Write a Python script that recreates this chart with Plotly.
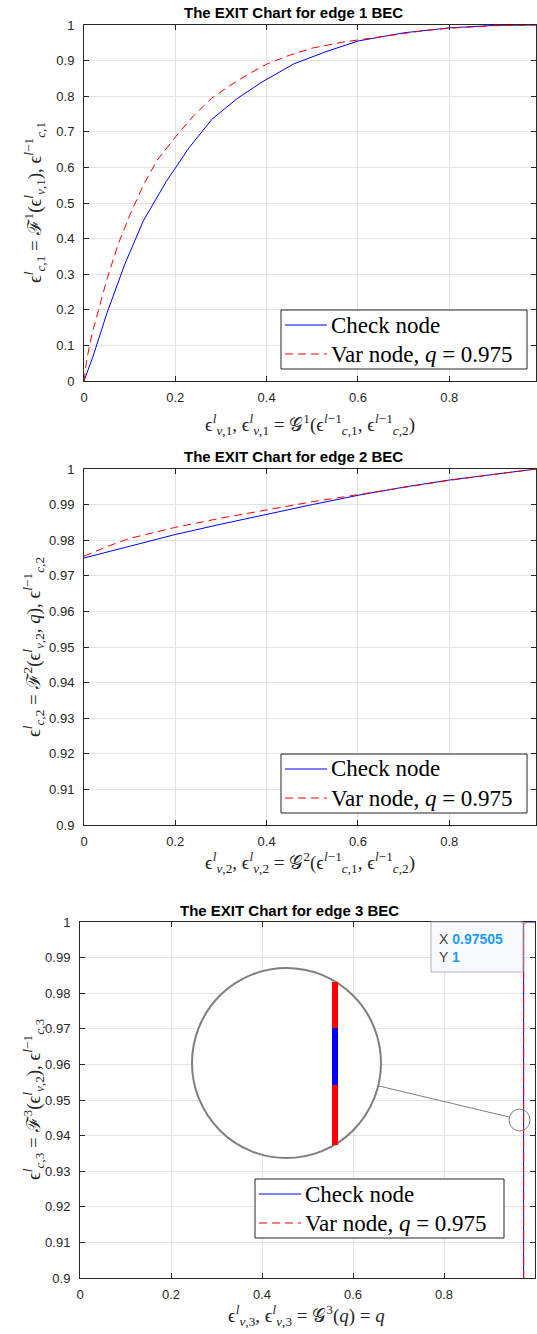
import plotly.graph_objects as go

W, H = 537, 1334

# ---------------- data ----------------
# edge 1
e1_check_x = [0, 0.02, 0.05, 0.09, 0.13, 0.18, 0.23, 0.28, 0.334, 0.39, 0.46, 0.5, 0.53, 0.6, 0.7, 0.8, 0.9, 0.99]
e1_check_y = [0, 0.07, 0.19, 0.33, 0.45, 0.56, 0.655, 0.735, 0.792, 0.84, 0.891, 0.911, 0.925, 0.955, 0.978, 0.992, 0.999, 1.0]
e1_var_x = [0, 0.005, 0.012, 0.02, 0.032, 0.05, 0.075, 0.1, 0.13, 0.16, 0.2, 0.24, 0.28, 0.32, 0.36, 0.4, 0.45, 0.5, 0.567, 0.6, 0.65, 0.7, 0.75, 0.8, 0.9, 0.99]
e1_var_y = [0, 0.05, 0.1, 0.145, 0.2, 0.285, 0.385, 0.465, 0.55, 0.62, 0.685, 0.745, 0.795, 0.83, 0.862, 0.89, 0.915, 0.935, 0.952, 0.958, 0.968, 0.977, 0.985, 0.991, 0.998, 1.0]
# edge 2
e2_check_x = [0, 0.1, 0.2, 0.3, 0.4, 0.5, 0.6, 0.7, 0.8, 0.9, 0.99]
e2_check_y = [0.975, 0.9784, 0.9816, 0.9845, 0.9873, 0.9900, 0.9926, 0.9949, 0.9969, 0.9986, 1.0]
e2_var_x = [0, 0.02, 0.05, 0.1, 0.2, 0.3, 0.4, 0.5, 0.6, 0.7, 0.8, 0.9, 0.99]
e2_var_y = [0.9755, 0.9766, 0.9782, 0.9805, 0.9836, 0.9862, 0.9886, 0.9908, 0.9928, 0.9948, 0.9968, 0.9985, 1.0]
# edge 3
e3_check_x = [0.975, 0.975, 1.0]
e3_check_y = [0.9, 1.0, 1.0]
e3_var_x = [0.975, 0.975]
e3_var_y = [0.9, 1.0]

q_value = 0.975
tip_x, tip_y = "0.97505", "1"
series_names = ["Check node", f"Var node, <i>q</i> = {q_value}"]

titles = ["The EXIT Chart for edge 1 BEC", "The EXIT Chart for edge 2 BEC", "The EXIT Chart for edge 3 BEC"]
y01_ticks = [0, 0.1, 0.2, 0.3, 0.4, 0.5, 0.6, 0.7, 0.8, 0.9, 1]
y01_text = ["0", "0.1", "0.2", "0.3", "0.4", "0.5", "0.6", "0.7", "0.8", "0.9", "1"]
y09_ticks = [0.9, 0.91, 0.92, 0.93, 0.94, 0.95, 0.96, 0.97, 0.98, 0.99, 1]
y09_text = ["0.9", "0.91", "0.92", "0.93", "0.94", "0.95", "0.96", "0.97", "0.98", "0.99", "1"]
x_ticks = [0, 0.2, 0.4, 0.6, 0.8, 1]
x_text = ["0", "0.2", "0.4", "0.6", "0.8", "1"]

BLUE = "#0000ff"
RED = "#ff0000"
AX = "#262626"
GRID = "#e3e3e3"
SANS = "Liberation Sans, Arial, sans-serif"
SERIF = "Liberation Serif, Times New Roman, serif"
DASH = "8px,5px"

# ---------------- layout helpers (pixels -> paper) ----------------
def px(x):
    return x / W

def py(y):
    return 1 - y / H

# axes boxes in pixels: (left, right, top, bottom)
boxes = [(84, 536, 25, 381), (84, 536, 469, 825), (80, 535, 922, 1278)]

fig = go.Figure()

data = [
    (e1_check_x, e1_check_y, e1_var_x, e1_var_y),
    (e2_check_x, e2_check_y, e2_var_x, e2_var_y),
    (e3_check_x, e3_check_y, e3_var_x, e3_var_y),
]
for i, (cx, cy, vx, vy) in enumerate(data):
    xa = "x" if i == 0 else f"x{i+1}"
    ya = "y" if i == 0 else f"y{i+1}"
    fig.add_trace(go.Scatter(x=cx, y=cy, mode="lines", name=series_names[0],
                             line=dict(color=BLUE, width=1), xaxis=xa, yaxis=ya,
                             showlegend=False, hoverinfo="skip"))
    fig.add_trace(go.Scatter(x=vx, y=vy, mode="lines", name=series_names[1],
                             line=dict(color=RED, width=1, dash=DASH), xaxis=xa, yaxis=ya,
                             showlegend=False, hoverinfo="skip"))

def axis_common():
    return dict(showline=True, linecolor=AX, linewidth=1, mirror="ticks",
                ticks="inside", ticklen=5, tickcolor=AX, showgrid=True,
                gridcolor=GRID, gridwidth=1, zeroline=False, automargin=False,
                tickfont=dict(family=SANS, size=13, color=AX))

layout = dict(width=W, height=H, margin=dict(l=0, r=0, t=0, b=0, pad=0, autoexpand=False),
              paper_bgcolor="white", plot_bgcolor="white", showlegend=False)

xranges = [[0, 0.99], [0, 0.99], [0, 1]]
for i, (l, r, t, b) in enumerate(boxes):
    xk = "xaxis" if i == 0 else f"xaxis{i+1}"
    yk = "yaxis" if i == 0 else f"yaxis{i+1}"
    xa = axis_common()
    xa.update(domain=[px(l), px(r)], range=xranges[i], tickvals=x_ticks, ticktext=x_text,
              anchor="y" if i == 0 else f"y{i+1}", ticklabelstandoff=4)
    ya = axis_common()
    if i == 0:
        ya.update(range=[0, 1], tickvals=y01_ticks, ticktext=y01_text)
    else:
        ya.update(range=[0.9, 1], tickvals=y09_ticks, ticktext=y09_text)
    ya.update(domain=[py(b), py(t)], anchor="x" if i == 0 else f"x{i+1}", ticklabelstandoff=6)
    layout[xk] = xa
    layout[yk] = ya

fig.update_layout(**layout)

# ---------------- legends (box, samples, labels) ----------------
# (left, right, top, bottom) in pixels
legend_boxes = [(281, 527, 310, 369), (281, 527, 754, 813), (255, 504, 1179, 1238)]
for (l, r, t, b) in legend_boxes:
    fig.add_shape(type="rect", xref="paper", yref="paper", x0=px(l), x1=px(r), y0=py(b), y1=py(t),
                  line=dict(color=AX, width=1), fillcolor="white", layer="above")
    rows = [t + 15, t + 44]
    styles = [dict(color=BLUE, width=1), dict(color=RED, width=1, dash=DASH)]
    for name, ry, st in zip(series_names, rows, styles):
        fig.add_shape(type="line", xref="paper", yref="paper", x0=px(l + 4), x1=px(l + 46),
                      y0=py(ry), y1=py(ry), line=st, layer="above")
        fig.add_annotation(text=name, x=px(l + 48), y=py(ry), xref="paper", yref="paper",
                           xanchor="left", yanchor="middle", showarrow=False,
                           font=dict(family=SERIF, size=23, color="black"))

# titles
title_pos = [(293, 12), (293, 456), (289, 910)]
for t, (tx, ty) in zip(titles, title_pos):
    fig.add_annotation(text=f"<b>{t}</b>", x=px(tx), y=py(ty), xref="paper", yref="paper",
                       xanchor="center", yanchor="middle",
                       showarrow=False, font=dict(family=SANS, size=15, color="black"))

# axis labels
xlabels = [
    "ϵ<sup><i>l</i></sup><sub><i>v</i>,1</sub>, ϵ<sup><i>l</i></sup><sub><i>v</i>,1</sub> = 𝒢<sup>1</sup>(ϵ<sup><i>l</i>−1</sup><sub><i>c</i>,1</sub>, ϵ<sup><i>l</i>−1</sup><sub><i>c</i>,2</sub>)",
    "ϵ<sup><i>l</i></sup><sub><i>v</i>,2</sub>, ϵ<sup><i>l</i></sup><sub><i>v</i>,2</sub> = 𝒢<sup>2</sup>(ϵ<sup><i>l</i>−1</sup><sub><i>c</i>,1</sub>, ϵ<sup><i>l</i>−1</sup><sub><i>c</i>,2</sub>)",
    "ϵ<sup><i>l</i></sup><sub><i>v</i>,3</sub>, ϵ<sup><i>l</i></sup><sub><i>v</i>,3</sub> = 𝒢<sup>3</sup>(<i>q</i>) = <i>q</i>",
]
ylabels = [
    "ϵ<sup><i>l</i></sup><sub><i>c</i>,1</sub> = ℱ<sup>1</sup>(ϵ<sup><i>l</i></sup><sub><i>v</i>,1</sub>), ϵ<sup><i>l</i>−1</sup><sub><i>c</i>,1</sub>",
    "ϵ<sup><i>l</i></sup><sub><i>c</i>,2</sub> = ℱ<sup>2</sup>(ϵ<sup><i>l</i></sup><sub><i>v</i>,2</sub>, <i>q</i>), ϵ<sup><i>l</i>−1</sup><sub><i>c</i>,2</sub>",
    "ϵ<sup><i>l</i></sup><sub><i>c</i>,3</sub> = ℱ<sup>3</sup>(ϵ<sup><i>l</i></sup><sub><i>v</i>,2</sub>), ϵ<sup><i>l</i>−1</sup><sub><i>c</i>,3</sub>",
]
xlabel_pos = [(310, 425), (310, 863), (306, 1315)]
ylabel_pos = [(34, 203), (34, 647), (33, 1100)]
for txt, (ax_, ay_) in zip(xlabels, xlabel_pos):
    fig.add_annotation(text=txt, x=px(ax_), y=py(ay_), xref="paper", yref="paper",
                       xanchor="center", yanchor="middle",
                       showarrow=False, font=dict(family=SERIF, size=19, color=AX))
for txt, (ax_, ay_) in zip(ylabels, ylabel_pos):
    fig.add_annotation(text=txt, x=px(ax_), y=py(ay_), xref="paper", yref="paper",
                       xanchor="center", yanchor="middle",
                       showarrow=False, textangle=-90, font=dict(family=SERIF, size=19, color=AX))

# ---------------- magnifier decoration on edge 3 ----------------
def ax3(pxx, pyy):
    l, r, t, b = boxes[2]
    return (pxx - l) / (r - l), 0.9 + (b - pyy) / (b - t) * 0.1

GRAYC = "#7f7f7f"
# big circle
cx0, cy0 = ax3(192, 968)
cx1, cy1 = ax3(381, 1158)
fig.add_shape(type="circle", xref="x3", yref="y3", x0=cx0, x1=cx1, y0=cy1, y1=cy0,
              line=dict(color=GRAYC, width=2), fillcolor="white", layer="above")
# inset bar segments
bx, _ = ax3(335, 1000)
segs = [(982, 1028, RED), (1028, 1085, BLUE), (1085, 1145, RED)]
for s0, s1, col in segs:
    _, ya0 = ax3(335, s0)
    _, ya1 = ax3(335, s1)
    fig.add_shape(type="line", xref="x3", yref="y3", x0=bx, x1=bx, y0=ya0, y1=ya1,
                  line=dict(color=col, width=6), layer="above")
# small circle
sx0, sy0 = ax3(509, 1109)
sx1, sy1 = ax3(530, 1131)
fig.add_shape(type="circle", xref="x3", yref="y3", x0=sx0, x1=sx1, y0=sy1, y1=sy0,
              line=dict(color=GRAYC, width=1), layer="above")
# connector
lx0, ly0 = ax3(379, 1086)
lx1, ly1 = ax3(509, 1117)
fig.add_shape(type="line", xref="x3", yref="y3", x0=lx0, x1=lx1, y0=ly0, y1=ly1,
              line=dict(color=GRAYC, width=1), layer="above")

# data tip
fig.add_shape(type="rect", xref="paper", yref="paper", x0=px(431), x1=px(523), y0=py(972), y1=py(922),
              line=dict(color="#b4b4b4", width=1), fillcolor="#f8f9fc", layer="above")
fig.add_annotation(text=f"<span style='color:#404040'>X</span> <b><span style='color:#1e9bff'>{tip_x}</span></b>",
                   x=px(437), y=py(939), xref="paper", yref="paper", xanchor="left", yanchor="middle",
                   showarrow=False, font=dict(family=SANS, size=14))
fig.add_annotation(text=f"<span style='color:#404040'>Y</span> <b><span style='color:#1e9bff'>{tip_y}</span></b>",
                   x=px(437), y=py(957), xref="paper", yref="paper", xanchor="left", yanchor="middle",
                   showarrow=False, font=dict(family=SANS, size=14))
d0x, d0y = ax3(521, 918)
d1x, d1y = ax3(527, 924)
fig.add_shape(type="circle", xref="x3", yref="y3", x0=d0x, x1=d1x, y0=d1y, y1=d0y,
              line=dict(color="#a0a0a0", width=0), fillcolor="#a0a0a0", layer="above")

fig.write_html("out.html")
